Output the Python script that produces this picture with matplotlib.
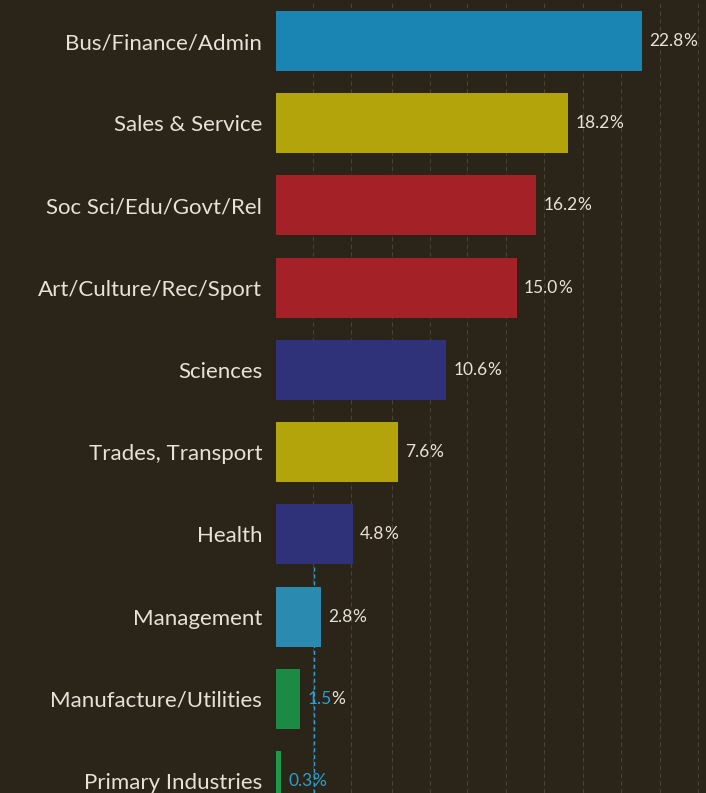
import numpy as np
import matplotlib

matplotlib.use("Agg")
import matplotlib.pyplot as plt  # noqa: E402

categories = ["Bus/Finance/Admin", "Sales & Service", "Soc Sci/Edu/Govt/Rel",
              "Art/Culture/Rec/Sport", "Sciences", "Trades, Transport", "Health",
              "Management", "Manufacture/Utilities", "Primary Industries"]
shares = [22.8, 18.2, 16.2, 15.0, 10.6, 7.6, 4.8, 2.8, 1.5, 0.3]
bar_colors = ["#1a84b2", "#b3a40c", "#a52128", "#a52128", "#2f3179",
              "#b3a40c", "#2f3179", "#2a8ab0", "#1b8a45", "#1c9a4c"]
# parte numerica azul donde la linea punteada cruza la etiqueta
num_colors = ["#e6e2d8"] * 8 + ["#2a9fd0", "#2a9fd0"]
pct_colors = ["#e6e2d8"] * 9 + ["#2a9fd0"]
grid_x = [2.3, 4.7, 7.2, 9.6, 11.9, 14.3, 16.7, 19.1, 21.5, 23.9, 26.3]
ref_x = 2.35  # linea punteada azul

BG = "#2b2519"
BLUE = "#2a9fd0"

fig = plt.figure(figsize=(7.06, 7.93), dpi=100, facecolor=BG)
ax = fig.add_axes([276 / 706, 0, 1 - 276 / 706, 1], facecolor=BG)

y = np.arange(len(categories))
for gx in grid_x:
    ax.axvline(gx, color="#5e5644", lw=0.8, ls=(0, (4, 3)), alpha=0.6, zorder=1)
ax.plot([ref_x, ref_x], [6.4, 9.3], color=BLUE, lw=1.0, ls=(0, (3, 2)), zorder=1)

ax.barh(y, shares, height=0.73, color=bar_colors, zorder=2)

for yi, v, nc, pc in zip(y, shares, num_colors, pct_colors):
    t = ax.text(v + 0.45, yi, f"{v:.1f}", va="center", ha="left", color=nc,
                fontsize=12.5, family="Lato", zorder=3)
    ax.annotate("%", xy=(1, 0), xycoords=t, va="bottom", ha="left", color=pc,
                fontsize=12.5, family="Lato", zorder=3)

ax.set_xlim(0, 430 / 16.05)
ax.set_ylim(9.146, -0.499)
ax.set_yticks(y)
ax.set_yticklabels(categories, family="Lato", fontsize=16, color="#e6e2d8")
ax.tick_params(axis="y", length=0, pad=10)
ax.set_xticks([])
for s in ax.spines.values():
    s.set_visible(False)

fig.savefig("out.png", dpi=100, facecolor=BG)
